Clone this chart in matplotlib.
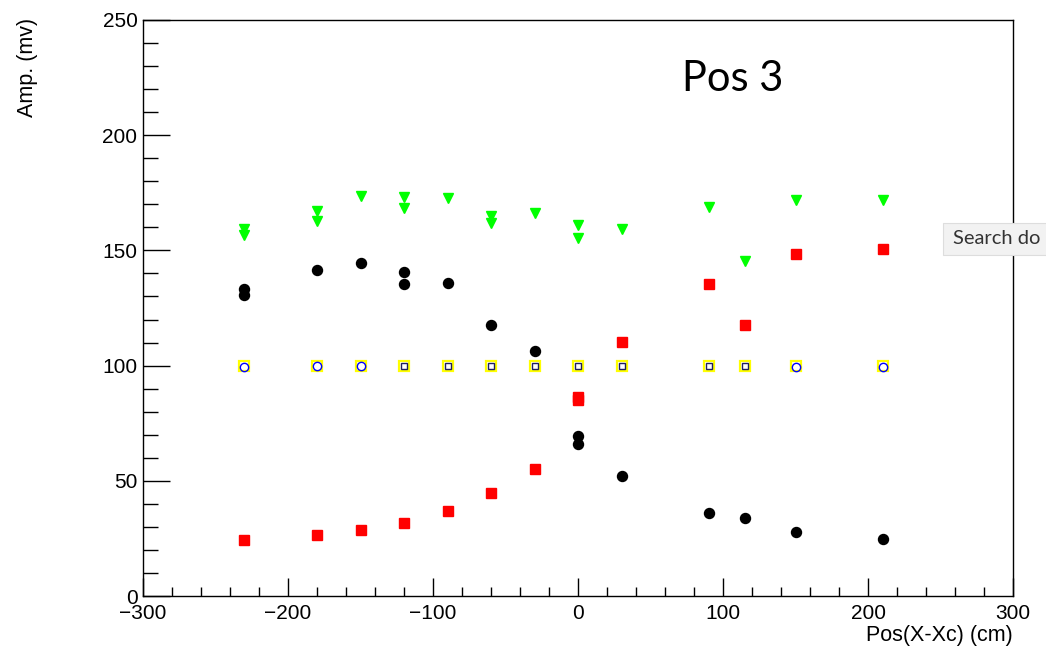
import matplotlib
matplotlib.use("Agg")
from matplotlib import pyplot as plt
from matplotlib.ticker import MultipleLocator
from matplotlib.patches import Rectangle

plt.rcParams['font.family'] = ['Liberation Sans', 'DejaVu Sans']

# amplitude vs position
black_x = [-230, -230, -180, -150, -120, -120, -90, -60, -30, 0, 0, 30, 90, 115, 150, 210]
black_y = [133.3, 130.8, 141.4, 144.6, 140.7, 135.5, 135.9, 117.8, 106.2, 69.5, 65.9, 52.2, 35.9, 33.8, 27.7, 24.8]

red_x = [-230, -180, -150, -120, -90, -60, -30, 0, 0, 30, 90, 115, 150, 210]
red_y = [24.3, 26.5, 28.6, 31.6, 36.8, 44.6, 55.2, 86.5, 85.0, 110.1, 135.6, 117.5, 148.6, 150.4]

green_x = [-230, -230, -180, -180, -150, -120, -120, -90, -60, -60, -30, 0, 0, 30, 90, 115, 150, 210]
green_y = [159.5, 156.9, 167.0, 162.7, 173.5, 173.3, 168.5, 172.8, 165.1, 162.0, 166.4, 161.2, 155.5, 159.1, 168.9, 145.3, 171.8, 171.8]

ref_x = [-230, -180, -150, -120, -90, -60, -30, 0, 30, 90, 115, 150, 210]
ref_y = [100, 100, 100, 100, 100, 100, 100, 100, 100, 100, 100, 100, 100]
circ_x = [-230, -180, -150, 150, 210]
circ_y = [99.6, 99.7, 99.8, 99.6, 99.2]
sq_x = [-120, -90, -60, -30, 0, 30, 90, 115]
sq_y = [100, 100, 100, 100, 100, 100, 100, 100]

x_ticks = [-300, -200, -100, 0, 100, 200, 300]
x_ticklabels = ['\u2212300', '\u2212200', '\u2212100', '0', '100', '200', '300']

fig = plt.figure(figsize=(10.46, 6.53), dpi=100)
ax = fig.add_axes([143/1046, 1 - 596/653, 870/1046, 576/653])

ax.plot(ref_x, ref_y, 's', ms=7, mfc='none', mec='#ffff00', mew=1.6, ls='none')
ax.plot(circ_x, circ_y, 'o', ms=6, mfc='none', mec='#0000ff', mew=1.0, ls='none')
ax.plot(sq_x, sq_y, 's', ms=5, mfc='none', mec='#202060', mew=1.0, ls='none')
ax.plot(green_x, green_y, 'v', ms=7.5, color='#00ff00', ls='none')
ax.plot(red_x, red_y, 's', ms=7.5, color='#ff0000', ls='none')
ax.plot(black_x, black_y, 'o', ms=7.2, color='black', ls='none')

ax.set_xlim(-300, 300)
ax.set_ylim(0, 250)
ax.xaxis.set_major_locator(MultipleLocator(100))
ax.xaxis.set_minor_locator(MultipleLocator(20))
ax.yaxis.set_major_locator(MultipleLocator(50))
ax.yaxis.set_minor_locator(MultipleLocator(10))
ax.tick_params(axis='x', which='major', direction='in', length=13, width=1, labelsize=15, pad=6)
ax.tick_params(axis='x', which='minor', direction='in', length=6.5, width=1)
ax.tick_params(axis='y', which='major', direction='in', length=19.5, width=1, labelsize=15, pad=4)
ax.tick_params(axis='y', which='minor', direction='in', length=10.8, width=1)
ax.tick_params(top=False, right=False, which='both')
ax.set_xticks(x_ticks)
ax.set_xticklabels(x_ticklabels)
for s in ax.spines.values():
    s.set_linewidth(1.0)

fig.text(1013/1046, 1 - 636/653, 'Pos(X-Xc) (cm)', ha='right', va='center', fontsize=15.5)
fig.text(27/1046, 1 - 18/653, 'Amp. (mv)', ha='center', va='top', rotation=90, fontsize=15.5)

fig.text(733/1046, 1 - 79/653, 'Pos 3', ha='center', va='center', fontsize=30, family=['Lato', 'DejaVu Sans'])

# tooltip box from the screenshot
fig.add_artist(Rectangle((943/1046, 1 - 255/653), 110/1046, 32/653, transform=fig.transFigure,
                         fc='#f2f2f2', ec='#dddddd', lw=0.8, zorder=10))
fig.text(953/1046, 1 - 239/653, 'Search do', ha='left', va='center', fontsize=14.5, color='#333333',
         family=['Lato', 'DejaVu Sans'], zorder=11)

fig.savefig('out.png', dpi=100)
